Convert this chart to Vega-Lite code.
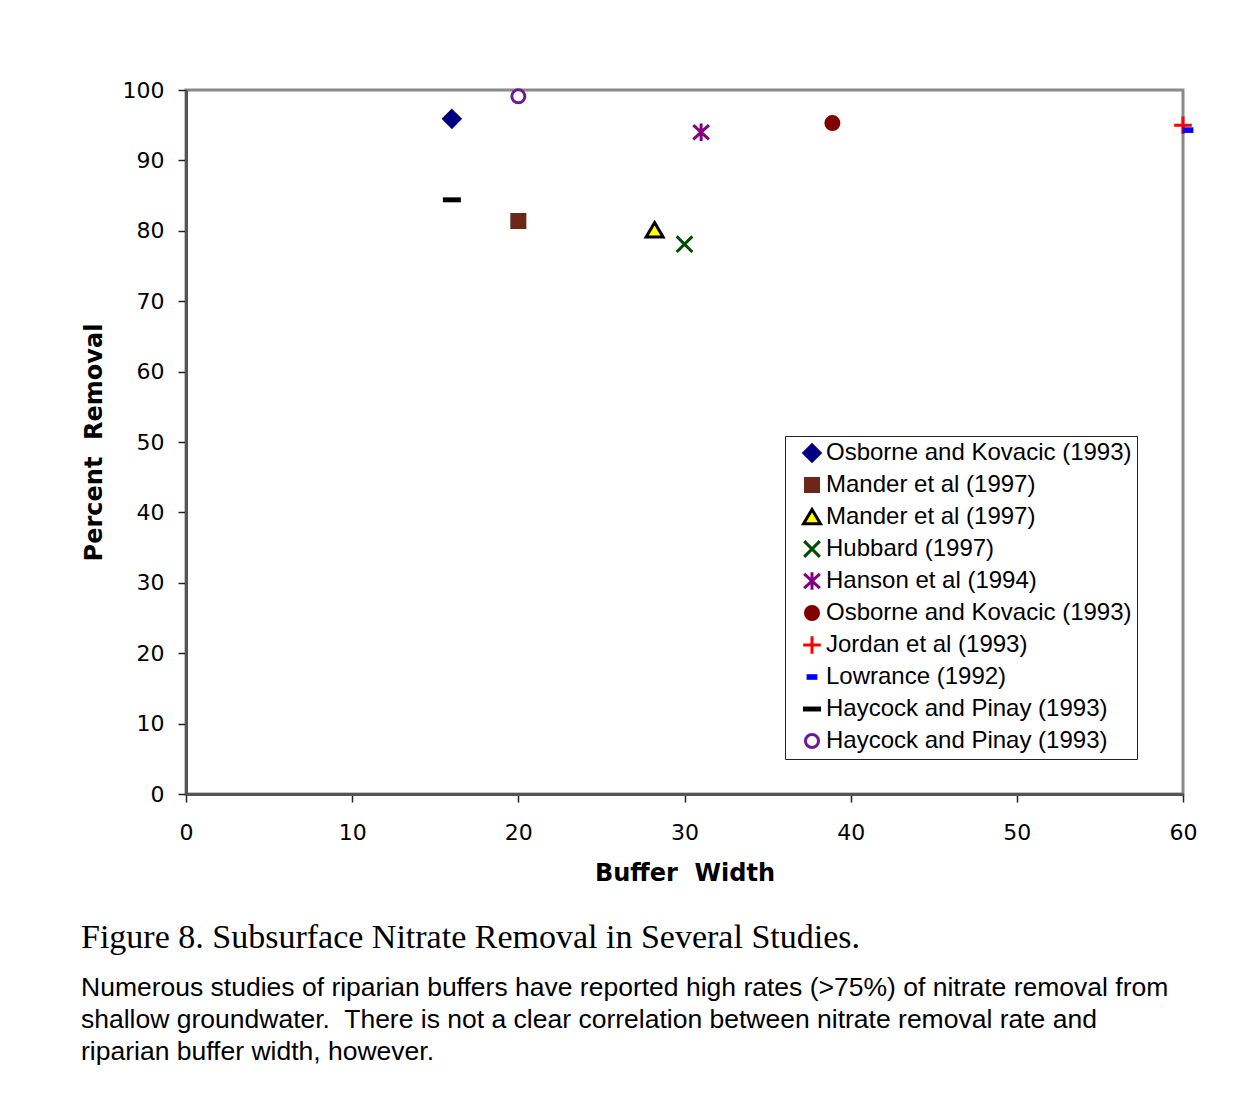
{
  "$schema": "https://vega.github.io/schema/vega-lite/v6.json",
  "autosize": "none",
  "width": 997,
  "height": 704,
  "padding": {"left": 186, "top": 90, "right": 73, "bottom": 310},
  "background": "white",
  "title": {
    "text": "Figure 8. Subsurface Nitrate Removal in Several Studies.",
    "subtitle": [
      "Numerous studies of riparian buffers have reported high rates (>75%) of nitrate removal from",
      "shallow groundwater.\u00a0 There is not a clear correlation between nitrate removal rate and",
      "riparian buffer width, however."
    ],
    "orient": "bottom",
    "anchor": "start",
    "frame": "bounds",
    "offset": 36,
    "dx": -1,
    "font": "Liberation Serif",
    "fontSize": 34,
    "fontWeight": "normal",
    "color": "#000",
    "subtitleFont": "Liberation Sans",
    "subtitleFontSize": 26.5,
    "subtitleColor": "#000",
    "subtitleLineHeight": 32,
    "subtitlePadding": 20
  },
  "data": {
    "values": [
      {"study": "Osborne and Kovacic (1993)|1", "width": 16, "removal": 95.9},
      {"study": "Mander et al (1997)|2", "width": 20, "removal": 81.4},
      {"study": "Mander et al (1997)|3", "width": 28.2, "removal": 80.1},
      {"study": "Hubbard (1997)|4", "width": 30, "removal": 78.1},
      {"study": "Hanson et al (1994)|5", "width": 31, "removal": 94},
      {"study": "Osborne and Kovacic (1993)|6", "width": 38.9, "removal": 95.3},
      {"study": "Jordan et al (1993)|7", "width": 60, "removal": 95},
      {"study": "Lowrance (1992)|8", "width": 60.3, "removal": 94.3},
      {"study": "Haycock and Pinay (1993)|9", "width": 16, "removal": 84.4},
      {"study": "Haycock and Pinay (1993)|10", "width": 20, "removal": 99.1}
    ]
  },
  "mark": {"type": "point", "filled": false, "size": 170, "strokeWidth": 3, "opacity": 1, "fillOpacity": 1},
  "encoding": {
    "x": {
      "field": "width",
      "type": "quantitative",
      "title": "Buffer\u00a0\u00a0Width",
      "scale": {"domain": [0, 60], "nice": false, "zero": false},
      "axis": {"values": [0, 10, 20, 30, 40, 50, 60], "labelPadding": 20, "titlePadding": 18, "labelFlush": false}
    },
    "y": {
      "field": "removal",
      "type": "quantitative",
      "title": "Percent\u00a0\u00a0Removal",
      "scale": {"domain": [0, 100], "nice": false},
      "axis": {"values": [0, 10, 20, 30, 40, 50, 60, 70, 80, 90, 100], "labelPadding": 14, "titlePadding": 16, "labelFlush": false}
    },
    "shape": {
      "field": "study",
      "type": "nominal",
      "sort": null,
      "scale": {
        "range": [
          "M0,-1.25L1.25,0L0,1.25L-1.25,0Z",
          "square",
          "M0,-1.15L1.3,1.05L-1.3,1.05Z",
          "M-1.2,-1.2L1.2,1.2M1.2,-1.2L-1.2,1.2",
          "M-1.2,-1.1L1.2,1.1M1.2,-1.1L-1.2,1.1M0,-1.35L0,1.35",
          "circle",
          "M-1.35,0L1.35,0M0,-1.35L0,1.35",
          "M-0.6,-0.2L0.6,-0.2L0.6,0.2L-0.6,0.2Z",
          "M-1.15,-0.15L1.15,-0.15L1.15,0.15L-1.15,0.15Z",
          "circle"
        ]
      },
      "legend": {
        "title": null,
        "orient": "none",
        "legendX": 599,
        "legendY": 346,
        "gridAlign": "all",
        "labelExpr": "split(datum.label, '|')[0]"
      }
    },
    "fill": {
      "field": "study",
      "type": "nominal",
      "sort": null,
      "scale": {
        "range": ["#000080", "#6b2818", "#ffff00", "#004d00", "#800080", "#800000", "#ff0000", "#0000ff", "#000000", "white"]
      },
      "legend": {
        "title": null,
        "orient": "none",
        "legendX": 599,
        "legendY": 346,
        "gridAlign": "all",
        "labelExpr": "split(datum.label, '|')[0]"
      }
    },
    "stroke": {
      "field": "study",
      "type": "nominal",
      "sort": null,
      "scale": {
        "range": ["#000080", "#6b2818", "#000000", "#004d00", "#800080", "#800000", "#ff0000", "#0000ff", "#000000", "#6a1b9a"]
      },
      "legend": {
        "title": null,
        "orient": "none",
        "legendX": 599,
        "legendY": 346,
        "gridAlign": "all",
        "labelExpr": "split(datum.label, '|')[0]"
      }
    }
  },
  "config": {
    "font": "Liberation Sans",
    "view": {"stroke": "#8a8a8a", "strokeWidth": 3},
    "axis": {
      "grid": false,
      "domainColor": "#555",
      "domainWidth": 3,
      "tickColor": "#222",
      "tickWidth": 1.5,
      "tickSize": 8,
      "labelFont": "DejaVu Sans",
      "labelFontSize": 22,
      "labelColor": "#000",
      "titleFont": "DejaVu Sans",
      "titleFontSize": 24,
      "titleFontWeight": "bold",
      "titleColor": "#000"
    },
    "legend": {
      "strokeColor": "#222",
      "fillColor": "white",
      "padding": 5,
      "labelFont": "Liberation Sans",
      "labelFontSize": 24,
      "labelColor": "#000",
      "labelLimit": 400,
      "labelOffset": 2,
      "symbolSize": 170,
      "symbolStrokeWidth": 3,
      "symbolOffset": 10,
      "rowPadding": 2,
      "cornerRadius": 0
    }
  }
}
